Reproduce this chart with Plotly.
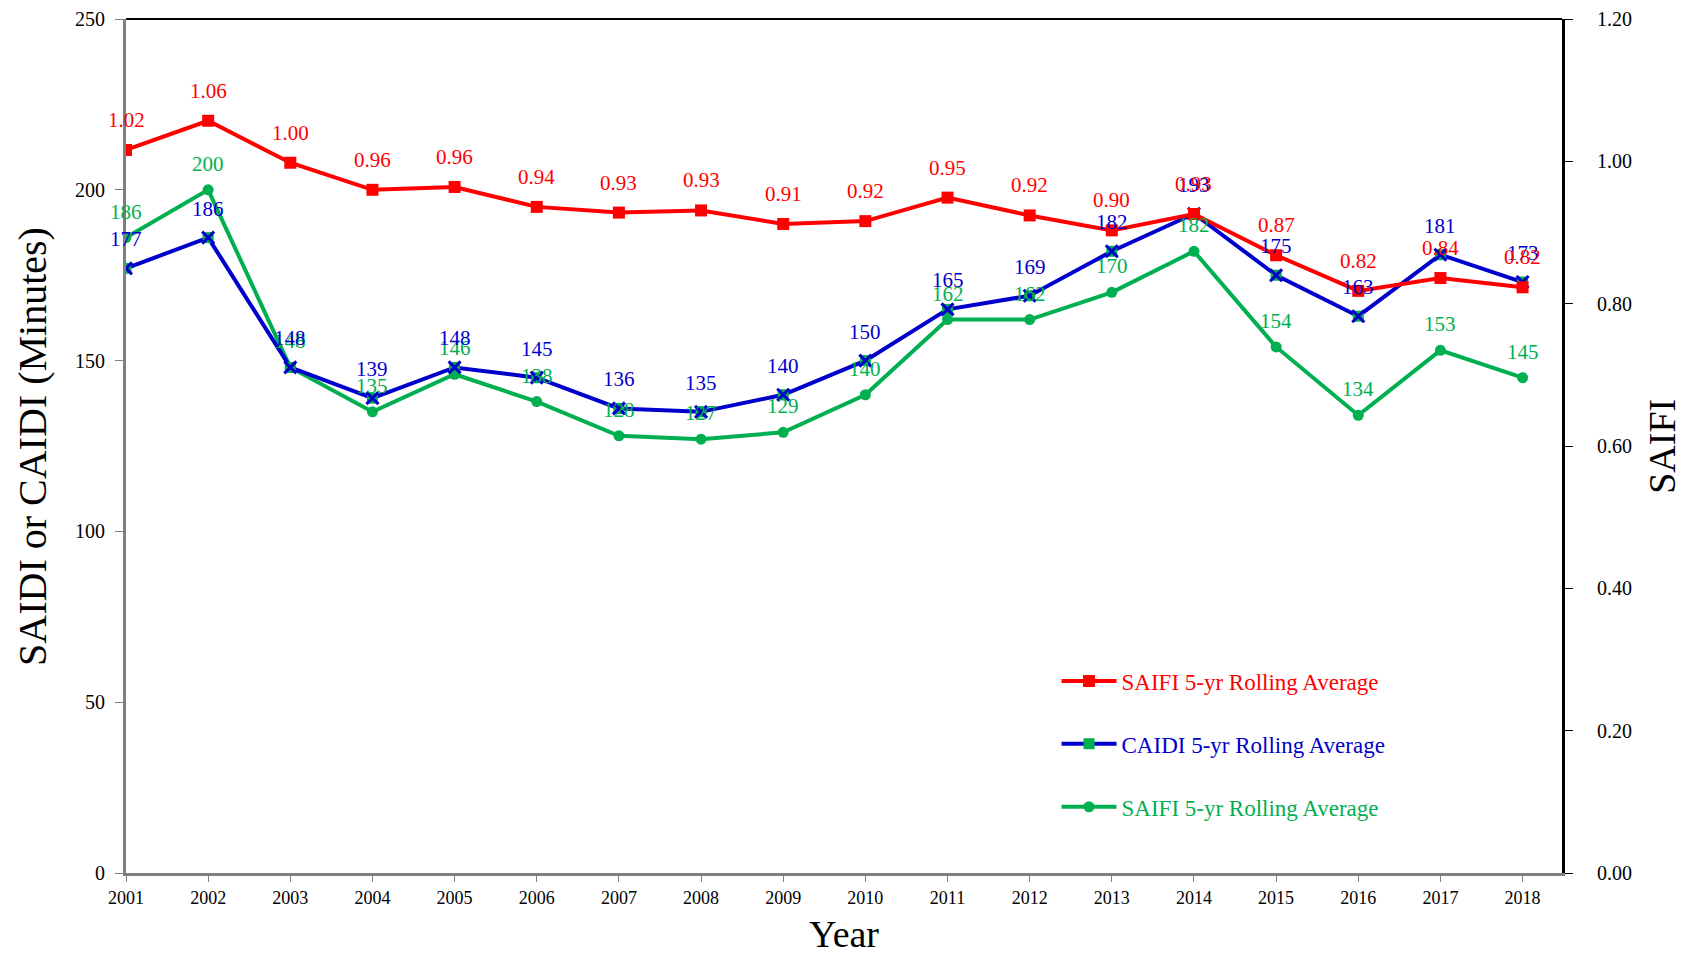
import plotly.graph_objects as go

years = list(range(2001, 2019))
saifi = [1.016, 1.057, 0.998, 0.960, 0.964, 0.936, 0.928, 0.931, 0.912, 0.916,
         0.949, 0.924, 0.903, 0.926, 0.868, 0.818, 0.836, 0.823]
caidi = [177, 186, 148, 139, 148, 145, 136, 135, 140, 150, 165, 169, 182, 193, 175, 163, 181, 173]
saidi = [186, 200, 148, 135, 146, 138, 128, 127, 129, 140, 162, 162, 170, 182, 154, 134, 153, 145]

RED = "#FF0000"
BLUE = "#0000CC"
GREEN = "#00B050"
FONT = "Liberation Serif"

fig = go.Figure()

fig.add_trace(go.Scatter(
    x=years, y=saidi, mode="lines+markers", yaxis="y",
    name=f"<span style='color:{GREEN}'>SAIFI 5-yr Rolling Average</span>",
    line=dict(color=GREEN, width=4), marker=dict(symbol="circle", size=11, color=GREEN),
    legendgroup="g", legendrank=3))
fig.add_trace(go.Scatter(
    x=years, y=caidi, mode="lines+markers", yaxis="y",
    name=f"<span style='color:{BLUE}'>CAIDI 5-yr Rolling Average</span>",
    line=dict(color=BLUE, width=4), marker=dict(symbol="square", size=11, color=GREEN),
    legendgroup="b", legendrank=2))
fig.add_trace(go.Scatter(
    x=years, y=caidi, mode="markers", yaxis="y", showlegend=False, hoverinfo="skip",
    marker=dict(symbol="x-thin", size=12, line=dict(color=BLUE, width=3))))
fig.add_trace(go.Scatter(
    x=years, y=saifi, mode="lines+markers", yaxis="y2",
    name=f"<span style='color:{RED}'>SAIFI 5-yr Rolling Average</span>",
    line=dict(color=RED, width=4), marker=dict(symbol="square", size=12, color=RED),
    legendgroup="r", legendrank=1))

annotations = []
for x, v in zip(years, saidi):
    annotations.append(dict(x=x, y=v, xref="x", yref="y", text=f"{v:d}", showarrow=False,
                            yshift=26, font=dict(family=FONT, size=21, color=GREEN)))
for x, v in zip(years, caidi):
    annotations.append(dict(x=x, y=v, xref="x", yref="y", text=f"{v:d}", showarrow=False,
                            yshift=29, font=dict(family=FONT, size=21, color=BLUE)))
for x, v in zip(years, saifi):
    annotations.append(dict(x=x, y=v, xref="x", yref="y2", text=f"{v:.2f}", showarrow=False,
                            yshift=30, font=dict(family=FONT, size=21, color=RED)))

# axis titles
annotations += [
    dict(text="SAIDI or CAIDI (Minutes)", xref="paper", yref="paper", x=-0.0655, y=0.5,
         xanchor="center", yanchor="middle", textangle=-90, showarrow=False,
         font=dict(family=FONT, size=40, color="black")),
    dict(text="Year", xref="paper", yref="paper", x=0.5, y=-0.071,
         xanchor="center", yanchor="middle", showarrow=False,
         font=dict(family=FONT, size=38, color="black")),
    dict(text="SAIFI", xref="paper", yref="paper", x=1.0695, y=0.5,
         xanchor="center", yanchor="middle", textangle=-90, showarrow=False,
         font=dict(family=FONT, size=38, color="black")),
]

fig.update_layout(
    width=1683, height=957,
    margin=dict(l=126, r=121, t=19, b=84, autoexpand=False),
    paper_bgcolor="white", plot_bgcolor="white",
    font=dict(family=FONT, color="black"),
    showlegend=True,
    legend=dict(x=0.648, y=0.25, xanchor="left", yanchor="top",
                bgcolor="rgba(0,0,0,0)", font=dict(family=FONT, size=23),
                tracegroupgap=30, itemwidth=55, traceorder="grouped"),
    xaxis=dict(range=[2001, 2018.48], tickmode="array", tickvals=years,
               ticktext=[str(y) for y in years], showgrid=False, zeroline=False,
               showline=True, linecolor="#7F7F7F", linewidth=3, automargin=False,
               ticks="outside", ticklen=6, tickcolor="#7F7F7F",
               tickfont=dict(family=FONT, size=18)),
    yaxis=dict(range=[0, 250], dtick=50, showgrid=False, zeroline=False,
               showline=True, linecolor="#7F7F7F", linewidth=3, automargin=False,
               ticks="outside", ticklen=8, tickcolor="#7F7F7F",
               tickfont=dict(family=FONT, size=20), ticklabelstandoff=6),
    yaxis2=dict(range=[0, 1.2], dtick=0.2, tickformat=".2f", overlaying="y", side="right",
                showgrid=False, zeroline=False, showline=True, linecolor="black",
                linewidth=3, ticks="outside", ticklen=8, tickcolor="black", automargin=False,
                tickfont=dict(family=FONT, size=20), ticklabelstandoff=20),
    annotations=annotations,
    shapes=[dict(type="line", xref="paper", yref="paper", x0=0, x1=1, y0=1, y1=1,
                 line=dict(color="black", width=2))],
)

fig.write_html("out.html")
